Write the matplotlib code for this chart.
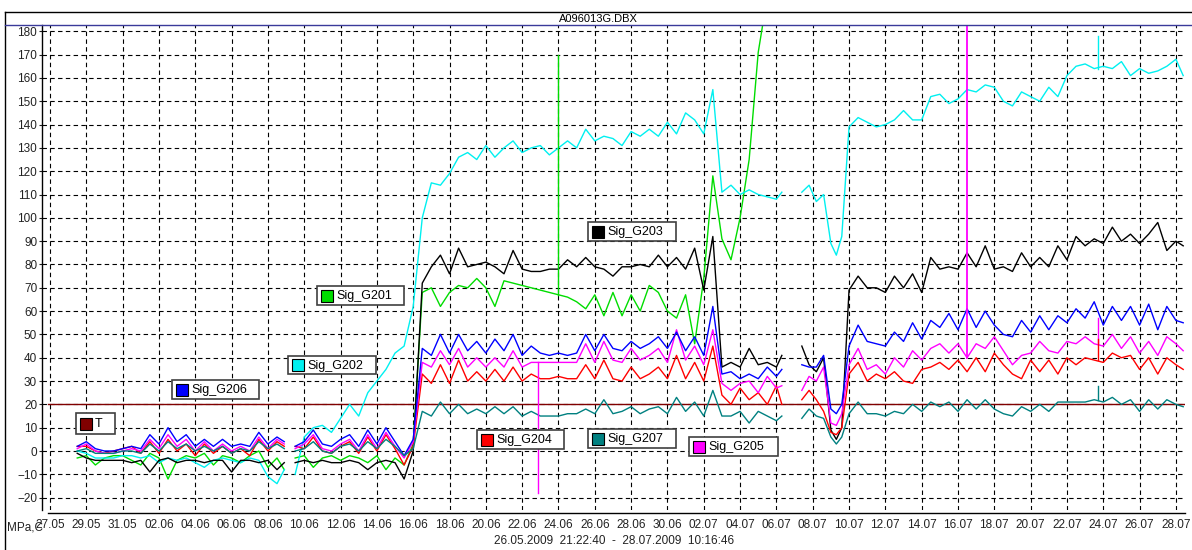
import matplotlib
matplotlib.use('Agg')
import matplotlib.pyplot as plt
from matplotlib.patches import Rectangle
from matplotlib.lines import Line2D

plt.rcParams['font.family'] = ['Liberation Sans', 'DejaVu Sans']

# time axis: days after 27.05.2009 00:00
tick_days = [0, 2, 4, 6, 8, 10, 12, 14, 16, 18, 20, 22, 24, 26, 28, 30,
             32, 34, 36, 38, 40, 42, 44, 46, 48, 50, 52, 54, 56, 58, 60, 62]
tick_labels = ['27.05', '29.05', '31.05', '02.06', '04.06', '06.06', '08.06', '10.06',
               '12.06', '14.06', '16.06', '18.06', '20.06', '22.06', '24.06', '26.06',
               '28.06', '30.06', '02.07', '04.07', '06.07', '08.07', '10.07', '12.07',
               '14.07', '16.07', '18.07', '20.07', '22.07', '24.07', '26.07', '28.07']

# three recording segments (gaps between them)
seg1_t = [1.5, 2.0, 2.5, 3.0, 3.5, 4.0, 4.5, 5.0, 5.5, 6.0,
          6.5, 7.0, 7.5, 8.0, 8.5, 9.0, 9.5, 10.0, 10.5, 11.0,
          11.5, 12.0, 12.5, 12.9]
seg2_t = [13.5, 14.0, 14.5, 15.0, 15.5, 16.0, 16.5, 17.0, 17.5, 18.0,
          18.5, 19.0, 19.5, 20.0, 20.5, 21.0, 21.5, 22.0, 22.5, 23.0,
          23.5, 24.0, 24.5, 25.0, 25.5, 26.0, 26.5, 27.0, 27.5, 28.0,
          28.5, 29.0, 29.5, 30.0, 30.5, 31.0, 31.5, 32.0, 32.5, 33.0,
          33.5, 34.0, 34.5, 35.0, 35.5, 36.0, 36.5, 37.0, 37.5, 38.0,
          38.5, 39.0, 39.5, 40.0, 40.3]
seg3_t = [41.4, 41.8, 42.2, 42.6, 43.0, 43.3, 43.6, 44.0, 44.5, 45.0,
          45.5, 46.0, 46.5, 47.0, 47.5, 48.0, 48.5, 49.0, 49.5, 50.0,
          50.5, 51.0, 51.5, 52.0, 52.5, 53.0, 53.5, 54.0, 54.5, 55.0,
          55.5, 56.0, 56.5, 57.0, 57.5, 58.0, 58.5, 59.0, 59.5, 60.0,
          60.5, 61.0, 61.5, 62.0, 62.4]

# T (constant)
t_days = [-0.11, 62.43]
t_vals = [20, 20]

# Sig_G201 (green)
g201_s1 = [-3, -2, -6, -3, -2, -2, -4, -6, -1, -3,
           -12, -4, -2, -3, -1, -6, -2, -3, -5, -2,
           0, -7, -3, -8]
g201_s2 = [-3, -2, -7, -3, -2, -4, -2, -3, -5, -2,
           -8, -3, -6, 3, 68, 70, 62, 68, 71, 70,
           74, 70, 62, 73, 72, 71, 70, 69, 68, 67,
           66, 64, 61, 67, 58, 68, 58, 67, 60, 71,
           68, 60, 57, 67, 46, 74, 118, 91, 82, 100,
           125, 171, 195, 200, 200]

# Sig_G202 (cyan)
g202_s1 = [0, -1, -3, -3, -3, -2, -2, -3, -2, -5,
           -3, -4, -3, -5, -7, -4, -3, -4, -5, -3,
           -4, -11, -14, -8]
g202_s2 = [-10, 6, 10, 11, 8, 14, 20, 15, 25, 30,
           35, 42, 45, 62, 100, 115, 114, 119, 126, 128,
           125, 131, 126, 130, 133, 128, 130, 131, 127, 130,
           133, 130, 138, 133, 135, 134, 131, 137, 135, 138,
           135, 141, 136, 145, 142, 136, 155, 111, 114, 110,
           112, 110, 109, 108, 111]
g202_s3 = [111, 114, 107, 110, 89, 84, 92, 139, 143, 141,
           139, 140, 142, 146, 142, 142, 152, 153, 149, 151,
           155, 154, 157, 156, 150, 148, 154, 152, 150, 156,
           152, 161, 165, 166, 164, 165, 164, 167, 161, 164,
           162, 163, 165, 168, 161]

# Sig_G203 (black)
g203_s1 = [-1, -3, -4, -4, -4, -4, -5, -4, -9, -4,
           -3, -5, -4, -4, -5, -4, -4, -9, -4, -4,
           -5, -4, -8, -5]
g203_s2 = [-5, -4, -5, -4, -5, -5, -4, -5, -8, -5,
           -4, -5, -12, 0, 72, 79, 84, 76, 87, 79,
           80, 81, 79, 76, 86, 78, 77, 77, 78, 78,
           82, 79, 83, 79, 78, 75, 79, 79, 80, 79,
           84, 79, 83, 78, 87, 69, 92, 36, 38, 36,
           44, 37, 38, 36, 41]
g203_s3 = [45, 37, 34, 40, 9, 5, 10, 69, 75, 70,
           70, 68, 75, 70, 76, 68, 83, 78, 79, 78,
           85, 79, 88, 78, 79, 77, 85, 79, 83, 79,
           88, 82, 92, 88, 91, 89, 96, 90, 93, 89,
           93, 98, 86, 90, 88]

# Sig_G204 (red)
g204_s1 = [2, 2, 0, -1, 0, 1, 2, -1, 4, -1,
           5, 0, 3, -2, 3, -1, 2, -1, 1, -2,
           5, 0, 4, 2]
g204_s2 = [2, 1, 6, 0, -1, 2, 4, -1, 6, 0,
           7, 1, -6, 2, 33, 29, 37, 29, 39, 30,
           34, 30, 35, 30, 36, 30, 33, 31, 31, 32,
           31, 31, 37, 31, 39, 31, 30, 36, 31, 33,
           36, 31, 41, 31, 38, 30, 45, 24, 20, 27,
           22, 25, 20, 28, 20]
g204_s3 = [22, 26, 22, 17, 8, 7, 10, 33, 38, 30,
           33, 31, 34, 30, 29, 35, 36, 38, 35, 39,
           34, 40, 34, 42, 37, 33, 31, 39, 34, 39,
           33, 40, 37, 40, 39, 38, 42, 40, 41, 35,
           40, 33, 40, 37, 35]

# Sig_G205 (magenta)
g205_s1 = [1, 3, 0, -1, -1, 0, 1, 0, 5, 1,
           7, 2, 5, 0, 4, 0, 3, 0, 2, 0,
           6, 1, 5, 3]
g205_s2 = [1, 3, 7, 1, 0, 3, 5, 0, 7, 1,
           8, 2, -3, 4, 38, 36, 43, 37, 44, 36,
           40, 36, 40, 36, 43, 36, 38, 38, 38, 38,
           38, 38, 46, 38, 47, 39, 38, 44, 39, 41,
           44, 38, 52, 39, 45, 37, 52, 29, 26, 29,
           30, 25, 32, 27, 28]
g205_s3 = [26, 32, 30, 36, 12, 11, 16, 37, 44, 35,
           37, 33, 40, 36, 43, 39, 44, 46, 42, 46,
           40, 46, 44, 49, 43, 37, 41, 42, 47, 43,
           42, 47, 46, 49, 46, 45, 50, 44, 49, 42,
           47, 41, 49, 46, 43]

# Sig_G206 (blue)
g206_s1 = [2, 4, 1, 0, 0, 1, 2, 1, 7, 3,
           10, 4, 7, 2, 5, 2, 5, 2, 3, 2,
           8, 3, 6, 4]
g206_s2 = [2, 4, 9, 3, 2, 5, 7, 2, 9, 3,
           10, 4, -2, 5, 44, 41, 50, 42, 50, 43,
           47, 42, 48, 43, 50, 41, 45, 42, 41, 42,
           41, 42, 50, 43, 50, 44, 43, 47, 44, 46,
           49, 44, 51, 43, 49, 41, 62, 33, 34, 31,
           33, 31, 36, 32, 35]
g206_s3 = [37, 36, 36, 41, 18, 16, 20, 45, 54, 47,
           46, 45, 51, 47, 55, 48, 56, 53, 59, 52,
           61, 53, 60, 54, 50, 49, 56, 51, 58, 52,
           58, 55, 61, 57, 64, 54, 62, 56, 62, 54,
           63, 52, 62, 56, 55]

# Sig_G207 (teal)
g207_s1 = [0, 1, -1, -1, -1, 0, 0, -1, 3, 0,
           4, 1, 3, 0, 2, 0, 2, -1, 1, 0,
           4, 1, 3, 1]
g207_s2 = [0, 1, 4, 0, -1, 2, 3, 0, 4, 1,
           5, 2, -2, 1, 17, 15, 21, 16, 20, 16,
           18, 16, 19, 16, 19, 15, 17, 15, 15, 15,
           16, 16, 18, 16, 22, 16, 17, 19, 16, 18,
           19, 16, 23, 17, 21, 15, 26, 15, 15, 17,
           12, 17, 15, 13, 15]
g207_s3 = [14, 18, 15, 14, 6, 3, 6, 16, 21, 16,
           16, 15, 17, 16, 20, 17, 21, 19, 21, 17,
           22, 18, 22, 18, 16, 15, 19, 17, 20, 17,
           21, 21, 21, 21, 22, 21, 23, 20, 22, 17,
           22, 18, 22, 20, 19]

# short vertical spikes in the records
spike_sig = ['Sig_G201', 'Sig_G205', 'Sig_G205', 'Sig_G202', 'Sig_G205', 'Sig_G204', 'Sig_G207']
spike_day = [28.0, 26.9, 50.5, 57.7, 57.7, 57.7, 57.7]
spike_from = [67, 38, 40, 164, 46, 39, 22]
spike_to = [170, -18, 200, 178, 57, 48, 28]

colors = {'T': '#800000', 'Sig_G201': '#00dd00', 'Sig_G202': '#00f0f0',
          'Sig_G203': '#000000', 'Sig_G204': '#ff0000', 'Sig_G205': '#ff00ff',
          'Sig_G206': '#0000ff', 'Sig_G207': '#008080'}

series = [('Sig_G201', [g201_s1, g201_s2, None]),
          ('Sig_G202', [g202_s1, g202_s2, g202_s3]),
          ('Sig_G203', [g203_s1, g203_s2, g203_s3]),
          ('Sig_G204', [g204_s1, g204_s2, g204_s3]),
          ('Sig_G205', [g205_s1, g205_s2, g205_s3]),
          ('Sig_G206', [g206_s1, g206_s2, g206_s3]),
          ('Sig_G207', [g207_s1, g207_s2, g207_s3])]

W, H = 1192, 550


def fx(px):
    return px / W


def fy(py):
    return 1 - py / H


fig = plt.figure(figsize=(W / 100, H / 100), dpi=100)
ax = fig.add_axes([fx(42), fy(510), fx(1185) - fx(42), fy(25) - fy(510)])

ax.plot(t_days, t_vals, color=colors['T'], lw=1.0)
for name, segs in series:
    for t, v in zip([seg1_t, seg2_t, seg3_t], segs):
        if v is not None:
            ax.plot(t, v, color=colors[name], lw=1.0)
for s, d, a, b in zip(spike_sig, spike_day, spike_from, spike_to):
    ax.plot([d, d], [a, b], color=colors[s], lw=1.3 if b > 190 else 1.0)

ax.set_xlim(-0.44, 62.5)
ax.set_ylim(-25.3, 182.7)
ax.set_xticks(tick_days)
ax.set_xticklabels(tick_labels)
ax.set_yticks(range(-20, 181, 10))
ax.set_axisbelow(True)
ax.grid(True, color='black', linestyle=(0, (4, 3)), linewidth=0.8)
ax.tick_params(axis='x', length=0, pad=4, labelsize=8.5, colors='#222222')
ax.tick_params(axis='y', length=2, pad=1.5, labelsize=8.5, colors='#222222')
ax.spines['top'].set_visible(False)
ax.spines['right'].set_visible(False)
ax.spines['left'].set_linewidth(1.0)
ax.spines['bottom'].set_position(('outward', 2.2))
ax.spines['bottom'].set_bounds(-0.11, 62.5)
ax.spines['bottom'].set_linewidth(1.0)

# frame and title band
fig.add_artist(Line2D([fx(5), 1], [fy(12), fy(12)], color='black', lw=1.0))
fig.add_artist(Line2D([fx(5), fx(5)], [fy(12), 0], color='black', lw=1.0))
fig.add_artist(Line2D([fx(5), 1], [fy(25), fy(25)], color='#3a3a9a', lw=1.0))
fig.text(fx(598), fy(18.5), 'A096013G.DBX', ha='center', va='center', fontsize=8)
fig.text(fx(614), fy(541), '26.05.2009  21:22:40  -  28.07.2009  10:16:46',
         ha='center', va='center', fontsize=8.5, color='#222222')
fig.text(fx(7), fy(527), 'MPa,C', ha='left', va='center', fontsize=8.5, color='#222222')

# label boxes
box_names = ['T', 'Sig_G206', 'Sig_G202', 'Sig_G201', 'Sig_G203', 'Sig_G204', 'Sig_G207', 'Sig_G205']
box_px = [(76, 413, 115, 434), (172, 380, 259, 399), (288, 356, 376, 374), (317, 286, 404, 305),
          (588, 222, 676, 241), (477, 430, 564, 449), (588, 429, 676, 448), (689, 437, 778, 456)]

for name, (x0, y0, x1, y1) in zip(box_names, box_px):
    fig.add_artist(Rectangle((fx(x0), fy(y1)), fx(x1) - fx(x0), fy(y0) - fy(y1),
                             transform=fig.transFigure, facecolor='white',
                             edgecolor='#404040', lw=1.2))
    yc = (y0 + y1) / 2
    fig.add_artist(Rectangle((fx(x0 + 4), fy(yc + 6)), fx(12), fy(0) - fy(12),
                             transform=fig.transFigure, facecolor=colors[name],
                             edgecolor='black', lw=0.8))
    fig.text(fx(x0 + 19), fy(yc + 0.5), name, ha='left', va='center', fontsize=9)

fig.savefig('out.png', dpi=100)
